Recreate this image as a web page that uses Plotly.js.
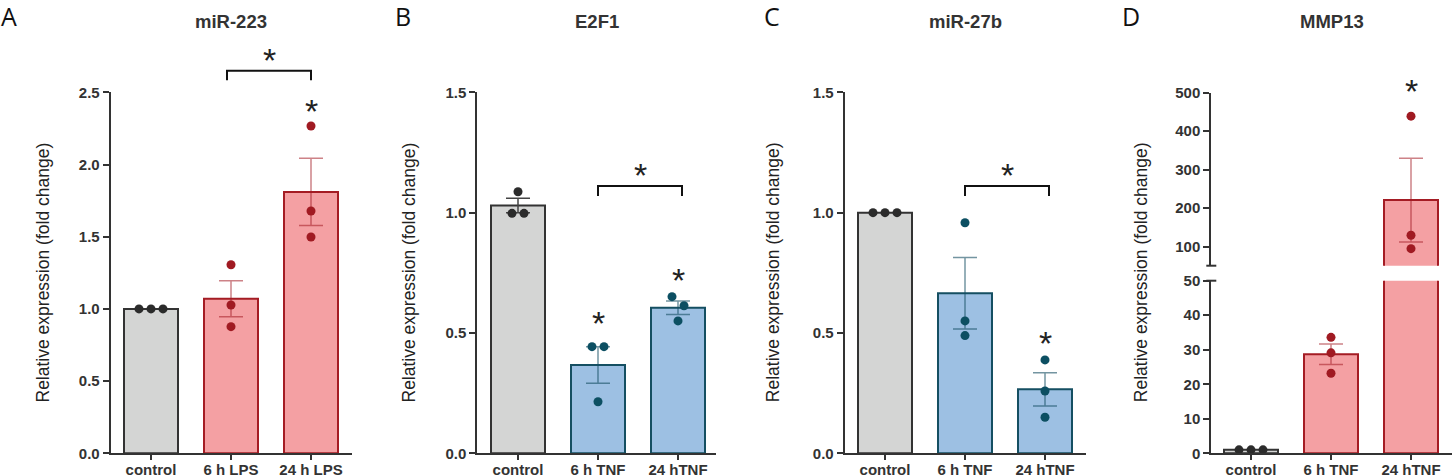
<!DOCTYPE html>
<html>
<head>
<meta charset="utf-8">
<script src="https://cdn.plot.ly/plotly-3.0.1.min.js"></script>
<style>
  html, body { margin: 0; padding: 0; background: #fff; }
  #chart { width: 1452px; height: 475px; }
</style>
</head>
<body>
<div id="chart"></div>
<script>
const W = 1452, H = 475;

// A: miR-223 after LPS
const catsA = ['control', '6 h LPS', '24 h LPS'];
const meanA = [1.00, 1.07, 1.81];
const semA = [0, 0.125, 0.233];
const ptsA = [[1.00, 1.00, 1.00], [1.306, 1.027, 0.877], [2.267, 1.678, 1.498]];
const yTicksA = [0, 0.5, 1.0, 1.5, 2.0, 2.5];

// B: E2F1 after TNF
const catsB = ['control', '6 h TNF', '24 hTNF'];
const meanB = [1.03, 0.367, 0.605];
const semB = [0.030, 0.076, 0.028];
const ptsB = [[0.997, 1.087, 0.997], [0.443, 0.214, 0.443], [0.651, 0.550, 0.613]];
const yTicksB = [0, 0.5, 1.0, 1.5];

// C: miR-27b after TNF
const catsC = ['control', '6 h TNF', '24 hTNF'];
const meanC = [1.00, 0.665, 0.266];
const semC = [0, 0.149, 0.069];
const ptsC = [[1.00, 1.00, 1.00], [0.958, 0.550, 0.489], [0.388, 0.259, 0.150]];
const yTicksC = [0, 0.5, 1.0, 1.5];

// D: MMP13 after TNF (broken axis)
const catsD = ['control', '6 h TNF', '24 hTNF'];
const meanD = [1.0, 28.7, 221];
const semD = [0, 2.95, 109];
const ptsD = [[1.0, 1.0, 1.0], [33.6, 29.1, 23.2], [439, 129.6, 94.8]];
const yTicksDlow = [0, 10, 20, 30, 40, 50];
const yTicksDhigh = [100, 200, 300, 400, 500];

const FONT = 'Liberation Sans, Arial, Helvetica, sans-serif';
const INK = '#333333';
const STEP = 80;        // px between category centres
const BARW = 54 / STEP; // bar width in category units

const GREY = {fill: '#d4d5d4', line: '#333333', dot: '#2b2b2b', err: '#444444'};
const RED  = {fill: '#f4a0a3', line: '#a41c24', dot: '#a01a22', err: 'rgba(164,28,36,0.55)'};
const BLUE = {fill: '#9dc0e3', line: '#154f62', dot: '#0c4f62', err: 'rgba(21,79,98,0.6)'};

// horizontal spread of the dots, in px
const jitWide = [[-12, 0, 12], [0, 0, 0], [0, 0, 0]];
const jitB = [[-6, 0, 6], [-6, 0, 6], [-6, 0, 6]];

const px = v => v / W;
const py = v => 1 - v / H;

const traces = [];
const layout = {
  width: W, height: H,
  margin: {l: 0, r: 0, t: 0, b: 0},
  paper_bgcolor: '#fff', plot_bgcolor: 'rgba(0,0,0,0)',
  showlegend: false, barmode: 'overlay',
  font: {family: FONT, color: INK},
  annotations: [], shapes: []
};

function addPanel(p) {
  p.segs.forEach(s => {
    p.cats.forEach((c, i) => {
      const inSeg = p.mean[i] >= s.lo && p.mean[i] <= s.hi;
      if (s.lo > 0 && !inSeg) return;
      const pal = p.pal[i];
      traces.push({
        type: 'bar', x: [i], y: [p.mean[i]], width: [BARW],
        xaxis: p.xa, yaxis: s.ya, hoverinfo: 'skip',
        marker: {color: pal.fill, line: {color: pal.line, width: 2}},
        error_y: {type: 'data', array: [p.sem[i]], visible: inSeg && p.sem[i] > 0,
                  color: pal.err, thickness: 1.5, width: 12}
      });
      const xs = [], ys = [];
      p.pts[i].forEach((v, k) => {
        if (v >= s.lo && v <= s.hi) { xs.push(i + p.jit[i][k] / STEP); ys.push(v); }
      });
      if (ys.length) traces.push({
        type: 'scatter', mode: 'markers', x: xs, y: ys, xaxis: p.xa, yaxis: s.ya,
        hoverinfo: 'skip', cliponaxis: false,
        marker: {color: pal.dot, size: 9, line: {width: 0}}
      });
    });
  });
}

function axisStyle() {
  return {
    showline: true, linewidth: 2, linecolor: INK,
    ticks: 'outside', ticklen: 6, tickwidth: 2, tickcolor: INK,
    showgrid: false, zeroline: false, fixedrange: true
  };
}

function xAxis(name, left, right, c0, cats, yName) {
  layout[name] = Object.assign(axisStyle(), {
    domain: [px(left), px(right)],
    range: [(left - c0) / STEP, (right - c0) / STEP],
    anchor: yName, tickvals: [0, 1, 2], ticktext: cats,
    ticklen: 5, ticklabelstandoff: -3,
    tickfont: {family: FONT, size: 15, color: INK, weight: 'bold'}
  });
}

function yAxis(name, top, bottom, range, ticks, fmt, xName) {
  layout[name] = Object.assign(axisStyle(), {
    domain: [py(bottom), py(top)], range: range, anchor: xName,
    tickvals: ticks, tickformat: fmt,
    tickfont: {family: FONT, size: 15, color: INK, weight: 'bold'}
  });
}

function label(x, y, text, size, bold, family) {
  layout.annotations.push({
    xref: 'paper', yref: 'paper', x: px(x), y: py(y), text: text, showarrow: false,
    xanchor: 'center', yanchor: 'middle',
    font: {family: family || FONT, size: size, color: bold ? INK : '#111', weight: bold ? 'bold' : 'normal'}
  });
}

function yTitle(x) {
  layout.annotations.push({
    xref: 'paper', yref: 'paper', x: px(x), y: py(272.5), textangle: -90,
    text: 'Relative expression (fold change)', showarrow: false,
    xanchor: 'center', yanchor: 'middle', font: {family: FONT, size: 17.5, color: '#222'}
  });
}

function star(xa, x, y) {
  layout.annotations.push({
    xref: xa, yref: 'paper', x: x, y: py(y + 8), text: '*', showarrow: false,
    xanchor: 'center', yanchor: 'middle', font: {family: FONT, size: 34, color: '#222'}
  });
}

function bracket(xa, x1, x2, top, drop) {
  layout.shapes.push({
    type: 'path', xref: xa, yref: 'paper',
    path: `M ${x1},${py(top + drop)} L ${x1},${py(top)} L ${x2},${py(top)} L ${x2},${py(top + drop)}`,
    line: {color: '#111', width: 2}
  });
}

// Panel A
xAxis('xaxis', 110.7, 351.7, 151, catsA, 'y');
yAxis('yaxis', 92.3, 453.3, [0, 2.5], yTicksA, '.1f', 'x');
addPanel({cats: catsA, mean: meanA, sem: semA, pts: ptsA, jit: jitWide,
          pal: [GREY, RED, RED], xa: 'x', segs: [{ya: 'y', lo: 0, hi: 2.5}]});

// Panel B
xAxis('xaxis2', 477.3, 716, 518, catsB, 'y2');
yAxis('yaxis2', 92.3, 453.3, [0, 1.5], yTicksB, '.1f', 'x2');
addPanel({cats: catsB, mean: meanB, sem: semB, pts: ptsB, jit: jitB,
          pal: [GREY, BLUE, BLUE], xa: 'x2', segs: [{ya: 'y2', lo: 0, hi: 1.5}]});

// Panel C
xAxis('xaxis3', 844.7, 1086, 885, catsC, 'y3');
yAxis('yaxis3', 92.3, 453.3, [0, 1.5], yTicksC, '.1f', 'x3');
addPanel({cats: catsC, mean: meanC, sem: semC, pts: ptsC, jit: jitWide,
          pal: [GREY, BLUE, BLUE], xa: 'x3', segs: [{ya: 'y3', lo: 0, hi: 1.5}]});

// Panel D, two y segments
const dBreakLo = 50, dBreakHi = 50.6;
xAxis('xaxis4', 1211.3, 1452, 1251, catsD, 'y4');
yAxis('yaxis4', 280.7, 453.3, [0, dBreakLo], yTicksDlow, 'd', 'x4');
yAxis('yaxis5', 92.7, 265.7, [dBreakHi, 500], yTicksDhigh, 'd', 'x4');
addPanel({cats: catsD, mean: meanD, sem: semD, pts: ptsD, jit: jitWide,
          pal: [GREY, RED, RED], xa: 'x4',
          segs: [{ya: 'y4', lo: 0, hi: dBreakLo}, {ya: 'y5', lo: dBreakHi, hi: 500}]});
// caps at the axis break
[[265.7], [280.7]].forEach(([y]) => layout.shapes.push({
  type: 'line', xref: 'paper', yref: 'paper',
  x0: px(1206.3), x1: px(1216.3), y0: py(y), y1: py(y),
  line: {color: INK, width: 2}
}));

// titles, panel letters, axis titles
label(231, 22, 'miR-223', 18.5, true);
label(597.3, 22, 'E2F1', 18.5, true);
label(965, 22, 'miR-27b', 18.5, true);
label(1331.7, 22, 'MMP13', 18.5, true);
label(9, 15.5, 'A', 25, false, 'Open Sans, sans-serif');
label(403, 15.5, 'B', 25, false, 'Open Sans, sans-serif');
label(772, 15.5, 'C', 25, false, 'Open Sans, sans-serif');
label(1131, 15.5, 'D', 25, false, 'Open Sans, sans-serif');
yTitle(42);
yTitle(408);
yTitle(772.7);
yTitle(1140.7);

// significance marks
bracket('x', 0.95, 2.0, 70.7, 9.5);
star('x', 1.475, 51.7);
star('x', 2, 103);
bracket('x2', 1.0, 2.05, 186, 10);
star('x2', 1.525, 166.7);
star('x2', 1, 315);
star('x2', 2, 271.7);
bracket('x3', 1.0, 2.05, 186, 10);
star('x3', 1.525, 167);
star('x3', 2, 335);
star('x4', 2, 83.3);

Plotly.newPlot('chart', traces, layout, {staticPlot: true, displayModeBar: false});
</script>
</body>
</html>
